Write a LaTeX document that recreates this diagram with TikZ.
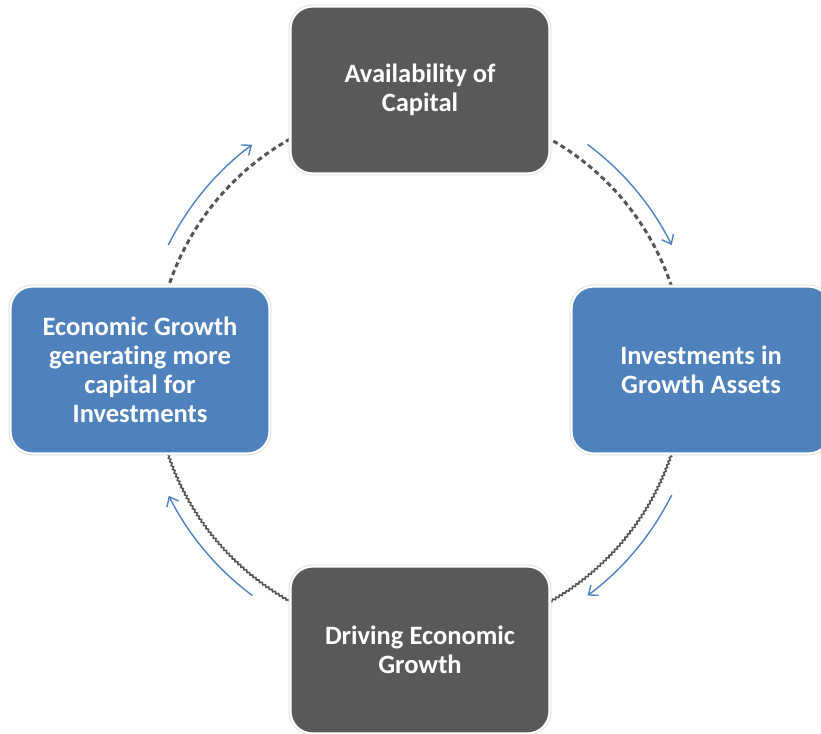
\documentclass[tikz,border=0pt]{standalone}
\usepackage{fontspec}
\setmainfont{Carlito}[Ligatures=NoCommon]
\usetikzlibrary{arrows.meta,decorations.pathmorphing}
\definecolor{boxgray}{HTML}{58595B}
\definecolor{boxblue}{HTML}{4F81BD}
\definecolor{ringgray}{HTML}{555555}
\newcommand\stagefont{\fontsize{26.5}{29}\selectfont\bfseries}
\tikzset{
  x=1pt, y=1pt,
  cyclebox/.style={rounded corners=22pt, minimum width=259pt, minimum height=167pt,
    text width=240pt, align=center, text=white, font=\stagefont,
    execute at begin node={\spaceskip=0.23em\relax},
    draw=white, line width=2.2pt,
    preaction={draw=black!14, line width=3.8pt}},
  darkbox/.style={cyclebox, fill=boxgray},
  bluebox/.style={cyclebox, fill=boxblue},
  ringdash/.style={draw=ringgray, line width=3pt, dash pattern=on 5pt off 3.5pt},
  ringwave/.style={draw=ringgray, line width=1.6pt,
    decorate, decoration={snake, amplitude=0.9pt, segment length=4pt}},
  flow/.style={draw=boxblue, line width=1.4pt,
    -{Straight Barb[length=8pt, width=13pt, line width=1.4pt]}},
}
\begin{document}
\begin{tikzpicture}
\useasboundingbox (-420,-363) rectangle (401,370);
\coordinate (c) at (0,0);

% ring linking the four stages (drawn first, the boxes cover its ends)
\draw[ringdash] (c) ++(170:265) arc[start angle=170, end angle=100, radius=265];
\draw[ringdash] (c) ++(80:265) arc[start angle=80, end angle=10, radius=265];
\draw[ringwave] (c) ++(-10:265) arc[start angle=-10, end angle=-80, radius=265];
\draw[ringwave] (c) ++(-100:265) arc[start angle=-100, end angle=-170, radius=265];

% stages
\node[darkbox] (avail)  at (0,280)   {Availability of\\Capital};
\node[bluebox] (invest) at (281,0)   {Investments in\\Growth Assets};
\node[darkbox] (drive)  at (0,-280)  {Driving Economic\\Growth};
\node[bluebox] (growth) at (-280,0)  {Economic Growth\\generating more\\capital for\\Investments};

% clockwise flow arrows
\draw[flow] (c) ++(153.6:281) arc[start angle=153.6, end angle=126.7, radius=281];
\draw[flow] (c) ++(53.4:281) arc[start angle=53.4, end angle=26.4, radius=281];
\draw[flow] (c) ++(-26.4:281) arc[start angle=-26.4, end angle=-53.4, radius=281];
\draw[flow] (c) ++(-126.6:281) arc[start angle=-126.6, end angle=-153.4, radius=281];
\end{tikzpicture}
\end{document}
